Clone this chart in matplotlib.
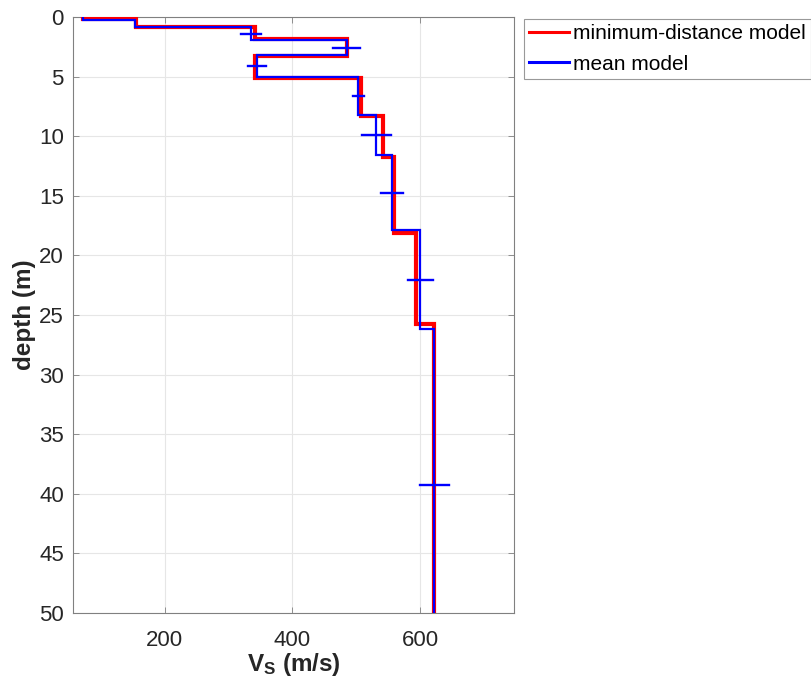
import numpy as np
import matplotlib
matplotlib.use("Agg")
import matplotlib.pyplot as plt

plt.rcParams['font.family'] = ['Liberation Sans', 'DejaVu Sans']
plt.rcParams['mathtext.fontset'] = 'custom'
plt.rcParams['mathtext.rm'] = 'Liberation Sans'
plt.rcParams['mathtext.bf'] = 'Liberation Sans:bold'

# Minimum-distance model: layer shear-wave velocities and interface depths
vs_min = [72, 155, 341, 485, 341, 507, 542, 559, 593, 622]
z_min = [0.2, 0.82, 1.85, 3.27, 5.15, 8.3, 11.72, 18.1, 25.75]

# Mean model: velocities, interface depths and velocity standard deviation
vs_mean = [72, 153, 335, 485, 345, 503, 531, 556, 600, 622]
z_mean = [0.22, 0.87, 1.93, 3.19, 5.0, 8.22, 11.58, 17.87, 26.2]
vs_std = [0, 0, 16, 21, 14, 9, 22.5, 17, 20, 22]

max_depth = 50
x_ticks = [200, 400, 600]
y_ticks = list(range(0, 55, 5))


def step_profile(vs, z, zmax):
    tops = [0.0] + list(z)
    bots = list(z) + [zmax]
    xs, ys = [], []
    for v, t, b in zip(vs, tops, bots):
        xs += [v, v]
        ys += [t, b]
    return np.array(xs), np.array(ys)


fig = plt.figure(figsize=(8.12, 6.92), dpi=100)
ax = fig.add_axes([73.5 / 812, 1 - 613 / 692, (514 - 73.5) / 812, (613 - 17) / 692])

xr, yr = step_profile(vs_min, z_min, max_depth)
xb, yb = step_profile(vs_mean, z_mean, max_depth)
ax.plot(xr, yr, color=(1, 0, 0), lw=3.0, label='minimum-distance model',
        solid_joinstyle='miter', zorder=3)
ax.plot(xb, yb, color=(0, 0, 1), lw=1.6, label='mean model',
        solid_joinstyle='miter', zorder=4)

# horizontal std bars at the mid-depth of each layer of the mean model
tops = [0.0] + z_mean
mids = [0.5 * (t + b) for t, b in zip(tops[:-1], z_mean)] + [1.5 * z_mean[-1]]
for v, s, zc in zip(vs_mean, vs_std, mids):
    if s > 0:
        ax.plot([v - s, v + s], [zc, zc], color=(0, 0, 1), lw=1.7, zorder=5)

vmin, vmax = min(vs_min + vs_mean), max(vs_min + vs_mean)
ax.set_xlim(0.8 * vmin, 1.2 * vmax)
ax.set_ylim(max_depth, 0)
ax.set_xticks(x_ticks)
ax.set_yticks(y_ticks)

axc = '#262626'
ax.grid(True, color='#e6e6e6', lw=0.8)
ax.set_axisbelow(True)
for sp in ax.spines.values():
    sp.set_color('#808080')
    sp.set_linewidth(0.8)
ax.tick_params(direction='in', length=4, width=0.6, color='#808080',
               labelcolor=axc, labelsize=16, top=True, right=True)
ax.tick_params(axis='x', pad=12)
ax.tick_params(axis='y', pad=7)

ax.set_xlabel(r'$\mathbf{V_S}$ (m/s)', fontsize=17.5, fontweight='bold', color=axc,
              labelpad=0)
ax.set_ylabel('depth (m)', fontsize=17.5, fontweight='bold', color=axc, labelpad=2)

leg = ax.legend(loc='upper left', bbox_to_anchor=(524 / 812, 1 - 19 / 692),
                bbox_transform=fig.transFigure, fontsize=15, frameon=True,
                fancybox=False, edgecolor='#808080', borderaxespad=0,
                handlelength=1.9, handletextpad=0.2, labelspacing=0.55,
                borderpad=0.25)
leg.get_frame().set_linewidth(0.8)
for line in leg.get_lines():
    line.set_linewidth(2.2)

fig.savefig('out.png', dpi=100)
